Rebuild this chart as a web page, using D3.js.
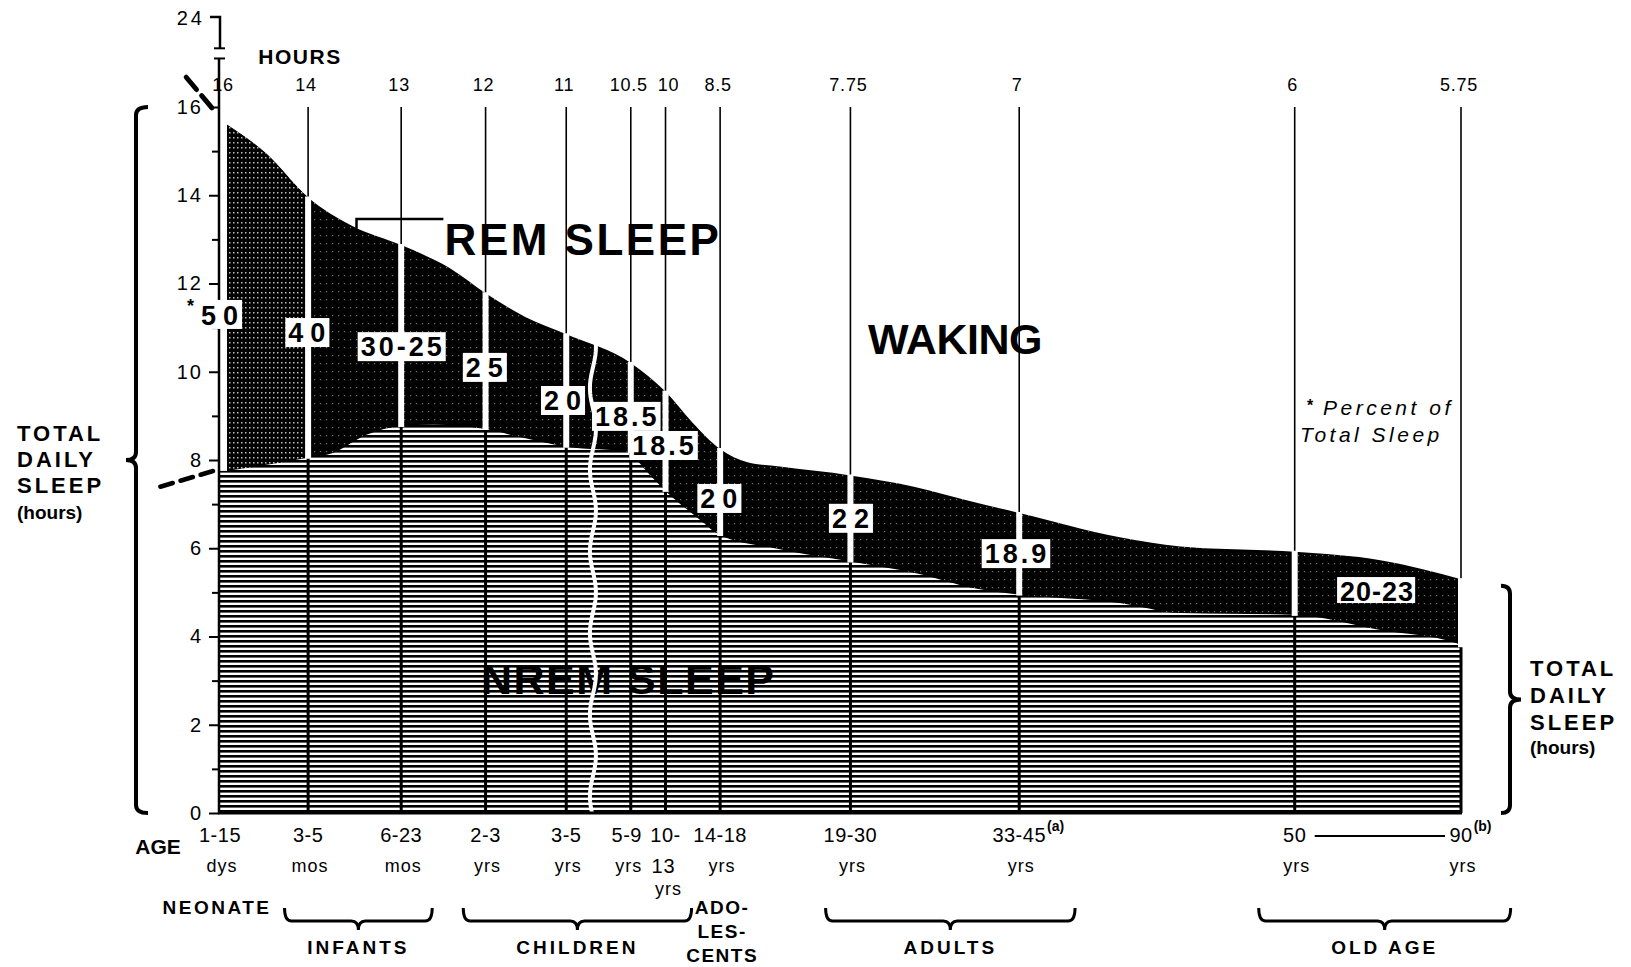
<!DOCTYPE html>
<html><head><meta charset="utf-8">
<script src="https://cdn.jsdelivr.net/npm/d3@7"></script>
<style>
body{margin:0;background:#fff;}
svg{display:block;}
text{font-family:"Liberation Sans",Arial,Helvetica,sans-serif;fill:#000;}
</style>
</head><body>
<svg id="c" width="1631" height="967"></svg>
<script>
// ---------- DATA ----------
const ageTop   = ["1-15","3-5","6-23","2-3","3-5","5-9","10-","14-18","19-30","33-45","50","90"];
const ageUnit  = ["dys","mos","mos","yrs","yrs","yrs","13","yrs","yrs","yrs","yrs","yrs"];
const ageSup   = ["","","","","","","","","","(a)","","(b)"];
// position of each age group on the chart's (uneven) horizontal axis, in axis units
const ageAxis  = [0,0.71,1.46,2.14,2.79,3.31,3.59,4.03,5.08,6.44,8.66,10];
const hourLabels = ["16","14","13","12","11","10.5","10","8.5","7.75","7","6","5.75"];
// drawn heights (hours) at each age line
const totalSleep = [15.7,13.95,12.87,11.78,10.85,10.2,9.55,8.25,7.65,6.8,5.92,5.3];
const nremSleep  = [7.73,8.05,8.77,8.7,8.3,8.18,7.3,6.3,5.7,4.95,4.49,3.78];
// outlines: [axis position, hours]
const totalOutline = [[0,15.7],[0.37,14.95],[0.71,13.95],[1.07,13.3],[1.46,12.87],[1.85,12.35],[2.14,11.78],[2.46,11.24],[2.79,10.85],[3.31,10.2],[3.59,9.55],[3.81,8.84],[4.03,8.25],[4.25,7.95],[4.51,7.85],[5.08,7.65],[5.6,7.39],[6.0,7.1],[6.44,6.8],[7.25,6.25],[7.74,6.04],[8.66,5.92],[9.35,5.73],[10,5.3]];
const nremOutline  = [[0,7.73],[0.71,8.05],[0.91,8.16],[1.18,8.57],[1.46,8.77],[1.72,8.8],[2.14,8.7],[2.4,8.53],[2.79,8.3],[3.31,8.18],[3.36,8.0],[3.59,7.3],[3.84,6.71],[4.03,6.3],[4.51,5.98],[5.08,5.7],[5.6,5.44],[6.1,5.08],[6.44,4.95],[7.25,4.76],[7.74,4.53],[8.66,4.49],[9.35,4.15],[9.96,3.85],[10,3.78]];
const remPct   = ["*50","40","30-25","25","20","18.5","18.5","20","22","18.9","20-23"];
const remPctAt = [[-0.06,11.31],[0.70,10.90],[1.46,10.58],[2.13,10.11],[2.76,9.36],[3.27,9.00],[3.57,8.34],[4.02,7.14],[5.08,6.69],[6.41,5.89],[9.32,5.03]];
const groups = [["INFANTS",0.52,1.71],["CHILDREN",1.96,3.80],["ADULTS",4.88,6.89],["OLD AGE",8.37,10.40]];
const yMajor = [0,2,4,6,8,10,12,14,16];
const yMinor = [1,3,5,7,9,11,13,15];

// ---------- SETUP ----------
const svg = d3.select("#c");
const x = d3.scaleLinear().domain([0,10]).range([220,1461]);
const y = d3.scaleLinear().domain([0,16]).range([813,107]);
const defs = svg.append("defs");

const pRem = defs.append("pattern").attr("id","rem").attr("patternUnits","userSpaceOnUse").attr("width",6).attr("height",8);
pRem.append("rect").attr("width",6).attr("height",8).attr("fill","#000");
pRem.append("rect").attr("x",2).attr("y",3).attr("width",1.2).attr("height",1.2).attr("fill","#fff").attr("opacity",0.45);

const pRemL = defs.append("pattern").attr("id","remL").attr("patternUnits","userSpaceOnUse").attr("width",4).attr("height",5);
pRemL.append("rect").attr("width",4).attr("height",5).attr("fill","#000");
pRemL.append("rect").attr("x",1).attr("y",2).attr("width",1.5).attr("height",1.5).attr("fill","#fff").attr("opacity",0.75);

const pN = defs.append("pattern").attr("id","nrem").attr("patternUnits","userSpaceOnUse").attr("width",10).attr("height",5);
pN.append("rect").attr("width",10).attr("height",5).attr("fill","#fff");
pN.append("rect").attr("width",10).attr("height",2.6).attr("fill","#000");

const curve = d3.curveMonotoneX;
const area = d3.area().x(d=>x(d[0])).y0(y(0)).y1(d=>y(d[1])).curve(curve);

// REM (total) area and NREM area
svg.append("path").datum(totalOutline).attr("d",area).attr("fill","url(#rem)");
defs.append("clipPath").attr("id","neo").append("rect")
  .attr("x",x(ageAxis[0])).attr("y",0).attr("width",x(ageAxis[1])-x(ageAxis[0])).attr("height",900);
svg.append("path").datum(totalOutline).attr("d",area).attr("fill","url(#remL)").attr("clip-path","url(#neo)");
svg.append("path").datum(nremOutline).attr("d",area).attr("fill","url(#nrem)");

// NREM SLEEP text
svg.append("text").attr("x",x(3.29)).attr("y",y(2.7)).attr("text-anchor","middle")
  .attr("font-size",43).attr("font-weight","bold").attr("letter-spacing",1.5)
  .style("fill","#000").text("NREM SLEEP");

// vertical age lines
ageAxis.forEach((a,i)=>{
  const px = x(a);
  if(i>0){
    svg.append("line").attr("x1",px).attr("x2",px).attr("y1",y(16)).attr("y2",y(totalSleep[i]))
      .attr("stroke","#000").attr("stroke-width",1.6);
    svg.append("line").attr("x1",px).attr("x2",px).attr("y1",y(nremSleep[i])).attr("y2",y(0))
      .attr("stroke","#000").attr("stroke-width",3);
    svg.append("line").attr("x1",px).attr("x2",px).attr("y1",y(totalSleep[i])-1).attr("y2",y(nremSleep[i])+1)
      .attr("stroke","#fff").attr("stroke-width",6);
  } else {
    svg.append("rect").attr("x",px).attr("y",y(totalSleep[0])-2).attr("width",7)
      .attr("height",y(nremSleep[0])-y(totalSleep[0])+1).attr("fill","#fff");
  }
});

// wavy break between 3-5 and 5-9 yrs
const waveAt = 3.005;
const wavePts = d3.range(y(10.8), y(0)+2, 3).map(py=>[x(waveAt)+3*Math.sin(py/13), py]);
svg.append("path").attr("d",d3.line()(wavePts)).attr("fill","none").attr("stroke","#fff").attr("stroke-width",4);

// baseline
svg.append("line").attr("x1",x(0)-2).attr("x2",x(10)+1).attr("y1",y(0)).attr("y2",y(0)).attr("stroke","#000").attr("stroke-width",3);

// ---------- Y AXIS ----------
const ax0 = x(0)-1;
const gA = svg.append("g").attr("transform",`translate(${ax0},0)`)
  .call(d3.axisLeft(y).tickValues(yMajor).tickSize(10).tickPadding(6).tickFormat(d3.format("d")));
gA.select(".domain").remove();
gA.selectAll("line").attr("stroke","#000").attr("stroke-width",2);
gA.selectAll("text").attr("font-size",20).attr("letter-spacing",2).style("font-family","'Liberation Sans',Arial,sans-serif");
const gM = svg.append("g").attr("transform",`translate(${ax0},0)`)
  .call(d3.axisLeft(y).tickValues(yMinor).tickSize(7).tickFormat(""));
gM.select(".domain").remove();
gM.selectAll("line").attr("stroke","#000").attr("stroke-width",2);
// axis line with break up to 24
const yBrkLo = y(17.1), yBrkHi = y(17.33), y24 = y(18.04);
svg.append("line").attr("x1",ax0).attr("x2",ax0).attr("y1",y(0)).attr("y2",yBrkLo).attr("stroke","#000").attr("stroke-width",2.5);
svg.append("line").attr("x1",ax0-5).attr("x2",ax0+6).attr("y1",yBrkLo).attr("y2",yBrkLo).attr("stroke","#000").attr("stroke-width",2);
svg.append("line").attr("x1",ax0-5).attr("x2",ax0+6).attr("y1",yBrkHi).attr("y2",yBrkHi).attr("stroke","#000").attr("stroke-width",2);
svg.append("path").attr("d",`M${ax0-9},${y24}H${ax0+1}V${yBrkHi}`).attr("fill","none").attr("stroke","#000").attr("stroke-width",2.5);
svg.append("text").attr("x",ax0-14).attr("y",y24+1).attr("dy","0.35em").attr("text-anchor","end")
  .attr("font-size",20).attr("letter-spacing",3).text("24");
svg.append("text").attr("x",300).attr("y",y(17.14)).attr("dy","0.35em").attr("text-anchor","middle")
  .attr("font-size",21).attr("font-weight","bold").attr("letter-spacing",1.5).text("HOURS");

// dashed extensions left of the axis
svg.append("line").attr("x1",x(-0.065)).attr("y1",y(15.98)).attr("x2",x(-0.28)).attr("y2",y(16.7))
  .attr("stroke","#000").attr("stroke-width",5).attr("stroke-dasharray","16,8").attr("stroke-linecap","round");
svg.append("line").attr("x1",x(-0.056)).attr("y1",y(7.75)).attr("x2",x(-0.51)).attr("y2",y(7.37))
  .attr("stroke","#000").attr("stroke-width",4.5).attr("stroke-dasharray","13,8").attr("stroke-linecap","round");

// hours labels at top
hourLabels.forEach((h,i)=>{
  svg.append("text").attr("x",x(ageAxis[i])+(i===0?3:i===6?3:-2)).attr("y",y(16.5)).attr("dy","0.35em")
    .attr("text-anchor","middle").attr("font-size",18).attr("letter-spacing",0.8).text(h);
});

// ---------- REM % label boxes ----------
remPct.forEach((t,i)=>{
  const g = svg.append("g");
  const two = t.replace("*","").length===2;
  const ls = i===10?1:(two?7:3);
  const tx = g.append("text").attr("x",x(remPctAt[i][0])+ls/2).attr("y",y(remPctAt[i][1])).attr("dy","0.36em")
    .attr("text-anchor","middle").attr("font-size",27).attr("font-weight","bold").attr("letter-spacing",ls);
  if(t.startsWith("*")){
    tx.append("tspan").attr("font-size",18).attr("dy","-0.1em").text("*");
    tx.append("tspan").attr("dy","0.46em").text(t.slice(1));
  } else tx.text(t);
  const b = tx.node().getBBox();
  g.insert("rect","text").attr("x",b.x-3).attr("y",y(remPctAt[i][1])-14).attr("width",b.width+(ls>3?0:4))
    .attr("height",i===10?26:29).attr("fill","#fff");
});

// region titles
svg.append("text").attr("x",583).attr("y",y(13.0)).attr("dy","0.36em").attr("text-anchor","middle")
  .attr("font-size",44).attr("font-weight","bold").attr("letter-spacing",2.5).text("REM SLEEP");
svg.append("path").attr("d",`M${x(1.10)},${y(13.24)}V${y(13.46)}H${x(1.80)}`).attr("fill","none").attr("stroke","#000").attr("stroke-width",2.5);
svg.append("text").attr("x",955).attr("y",y(10.75)).attr("dy","0.36em").attr("text-anchor","middle")
  .attr("font-size",43).attr("font-weight","bold").attr("letter-spacing",-0.5).text("WAKING");
svg.append("text").attr("x",1307).attr("y",y(9.25)).attr("dy","0.36em").attr("font-size",16).attr("font-weight","bold").text("*");
svg.append("text").attr("x",1323).attr("y",y(9.18)).attr("dy","0.36em").attr("font-size",21).attr("font-style","italic").attr("letter-spacing",3.5).text("Percent of");
svg.append("text").attr("x",1300).attr("y",y(8.59)).attr("dy","0.36em").attr("font-size",21).attr("font-style","italic").attr("letter-spacing",3.5).text("Total Sleep");

// ---------- braces ----------
function vBrace(xl, top, bot, tip, hookDx){
  const mid=(top+bot)/2, r=8;
  return `M${xl+hookDx},${top} Q${xl},${top} ${xl},${top+r} L${xl},${mid-r} Q${xl},${mid} ${tip},${mid} Q${xl},${mid} ${xl},${mid+r} L${xl},${bot-r} Q${xl},${bot} ${xl+hookDx},${bot}`;
}
svg.append("path").attr("d",vBrace(136,y(16),y(0),126,12)).attr("fill","none").attr("stroke","#000").attr("stroke-width",4);
svg.append("path").attr("d",vBrace(1510,y(5.15),y(0),1521,-9)).attr("fill","none").attr("stroke","#000").attr("stroke-width",4);

function sideLabel(cx, ys){
  ["TOTAL","DAILY","SLEEP"].forEach((t,k)=>{
    svg.append("text").attr("x",cx).attr("y",ys[k]).attr("dy","0.36em").attr("font-size",22)
      .attr("font-weight","bold").attr("letter-spacing",3).text(t);
  });
  svg.append("text").attr("x",cx).attr("y",ys[3]).attr("dy","0.36em").attr("font-size",19)
    .attr("font-weight","bold").attr("letter-spacing",0).text("(hours)");
}
sideLabel(17,[433,459,485,512]);
sideLabel(1530,[668,695,722,747]);

// ---------- X labels ----------
svg.append("text").attr("x",158).attr("y",846).attr("dy","0.36em").attr("text-anchor","middle")
  .attr("font-size",21).attr("font-weight","bold").text("AGE");
ageTop.forEach((t,i)=>{
  const cx = x(ageAxis[i]) + (i===5?-4:0);
  const tt = svg.append("text").attr("x",cx).attr("y",835).attr("dy","0.36em").attr("text-anchor","middle")
    .attr("font-size",20).attr("letter-spacing",0.5).text(t);
  if(ageSup[i]){
    const w = tt.node().getComputedTextLength();
    svg.append("text").attr("x",cx+w/2+1).attr("y",826).attr("dy","0.36em").attr("font-size",14).attr("font-weight","bold").text(ageSup[i]);
  }
  const isNum = /\d/.test(ageUnit[i]);
  svg.append("text").attr("x",cx+(isNum?-2:2)).attr("y",866).attr("dy","0.36em").attr("text-anchor","middle")
    .attr("font-size",isNum?20:18).attr("letter-spacing",1).text(ageUnit[i]);
  if(isNum) svg.append("text").attr("x",cx+3).attr("y",889).attr("dy","0.36em").attr("text-anchor","middle")
    .attr("font-size",18).attr("letter-spacing",1).text("yrs");
});
svg.append("line").attr("x1",x(ageAxis[10])+20).attr("x2",x(ageAxis[11])-16).attr("y1",836).attr("y2",836).attr("stroke","#000").attr("stroke-width",2);

svg.append("text").attr("x",217).attr("y",907).attr("dy","0.36em").attr("text-anchor","middle")
  .attr("font-size",19).attr("font-weight","bold").attr("letter-spacing",2.5).text("NEONATE");
["ADO-","LES-","CENTS"].forEach((t,k)=>{
  svg.append("text").attr("x",x(ageAxis[7])+2).attr("y",907+k*24).attr("dy","0.36em").attr("text-anchor","middle")
    .attr("font-size",19).attr("font-weight","bold").attr("letter-spacing",1.5).text(t);
});
groups.forEach(g=>{
  const x1=x(g[1]), x2=x(g[2]), m=(x1+x2)/2, yt=908, yl=921, yp=930, r=7;
  svg.append("path").attr("d",`M${x1},${yt} Q${x1},${yl} ${x1+r},${yl} L${m-r},${yl} Q${m},${yl} ${m},${yp} Q${m},${yl} ${m+r},${yl} L${x2-r},${yl} Q${x2},${yl} ${x2},${yt}`)
    .attr("fill","none").attr("stroke","#000").attr("stroke-width",3);
  svg.append("text").attr("x",m).attr("y",947).attr("dy","0.36em").attr("text-anchor","middle")
    .attr("font-size",19).attr("font-weight","bold").attr("letter-spacing",3).text(g[0]);
});
</script>
</body></html>
